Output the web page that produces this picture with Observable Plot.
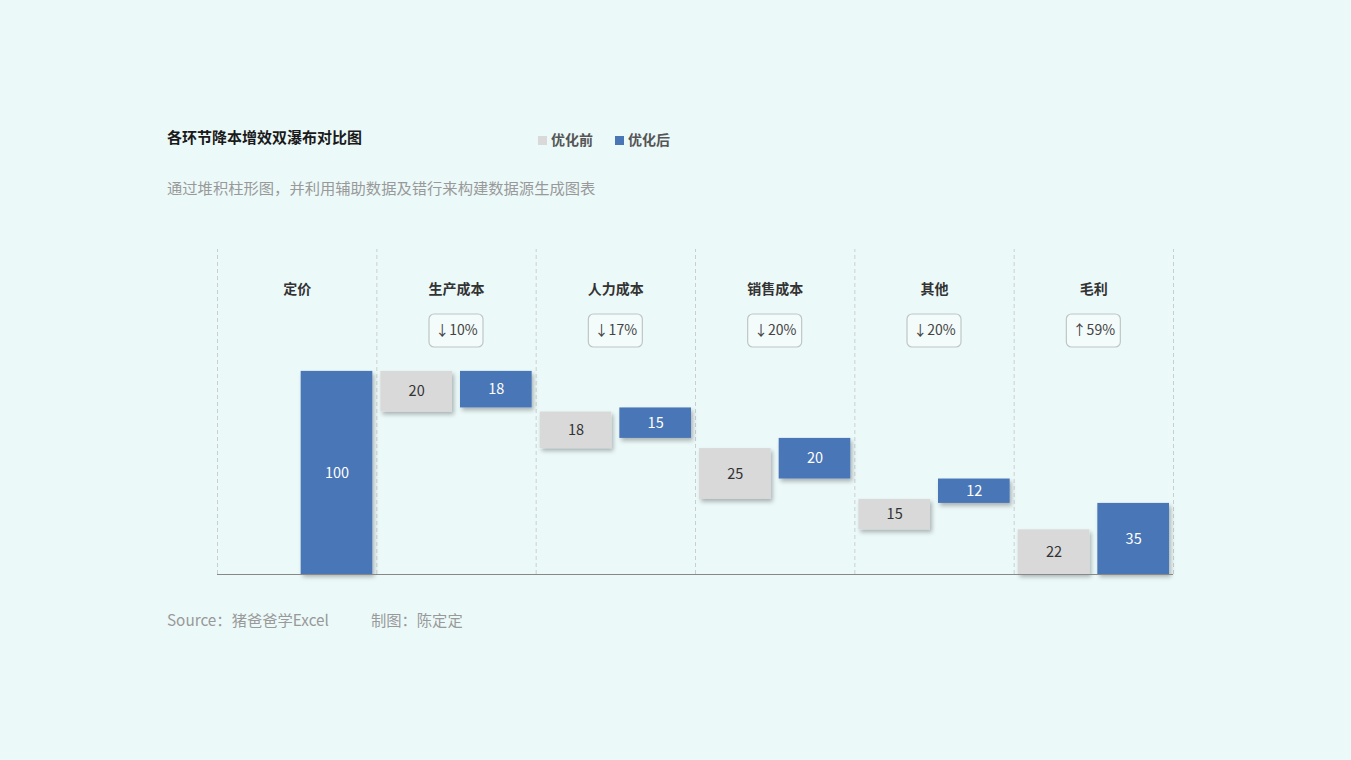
<!DOCTYPE html>
<html>
<head>
<meta charset="utf-8">
<script src="https://cdn.jsdelivr.net/npm/d3@7"></script>
<script src="https://cdn.jsdelivr.net/npm/@observablehq/plot@0.6"></script>
<style>
  html, body { margin: 0; padding: 0; background: #ecf9f9; }
  #wrap { position: relative; width: 1351px; height: 760px; background: #ecf9f9;
    font-family: "Noto Sans CJK SC", "Noto Sans", sans-serif; overflow: hidden; }
  .abs { position: absolute; white-space: nowrap; }
  #title { left: 167px; top: 126px; font-size: 15px; font-weight: bold; color: #1a1a1a; }
  #legend { left: 538px; top: 129px; font-size: 14px; font-weight: bold; color: #555; }
  #legend span.sw { display: inline-block; width: 9px; height: 9px; margin-right: 4px; vertical-align: 0px; }
  #legend span.item { margin-right: 22px; }
  #subtitle { left: 167px; top: 176px; font-size: 15.3px; color: #999; }
  #footer { left: 167px; top: 608px; font-size: 15.3px; color: #999; }
  #chart { position: absolute; left: 0; top: 230px; }
</style>
</head>
<body>
<div id="wrap">
  <div id="title" class="abs">各环节降本增效双瀑布对比图</div>
  <div id="legend" class="abs"></div>
  <div id="subtitle" class="abs">通过堆积柱形图，并利用辅助数据及错行来构建数据源生成图表</div>
  <div id="footer" class="abs">Source：猪爸爸学Excel<span style="display:inline-block;width:42px"></span>制图：陈定定</div>
  <div id="chart"></div>
</div>
<script>
// ---- data ----
const categories = ["定价", "生产成本", "人力成本", "销售成本", "其他", "毛利"];
const price = 100;                                  // 定价 (shared starting level)
const beforeValues = [null, 20, 18, 25, 15, 22];   // 优化前
const afterValues  = [100, 18, 15, 20, 12, 35];    // 优化后
const changeLabels = [null, "↓10%", "↓17%", "↓20%", "↓20%", "↑59%"];
const seriesNames = ["优化前", "优化后"];
const seriesColors = ["#d9d9d9", "#4a76b6"];
const yMax = 160;

// legend
const legend = document.getElementById("legend");
seriesNames.forEach((n, k) => {
  const s = document.createElement("span");
  s.className = "item";
  s.innerHTML = `<span class="sw" style="background:${seriesColors[k]}"></span>${n}`;
  legend.appendChild(s);
});

// ---- build waterfall rows ----
function waterfall(values, seriesIndex) {
  const rows = [];
  let level = price;
  values.forEach((v, i) => {
    if (v == null) return;
    let lo, hi;
    if (i === 0) { lo = 0; hi = v; level = v; }
    else if (i === values.length - 1) { lo = 0; hi = v; }
    else { hi = level; lo = level - v; level = lo; }
    rows.push({i, series: seriesNames[seriesIndex], s: seriesIndex, value: v, lo, hi});
  });
  return rows;
}
const bars = [...waterfall(beforeValues, 0), ...waterfall(afterValues, 1)];
const cats = categories.map((c, i) => ({i, name: c, change: changeLabels[i]}));
const badges = cats.filter(d => d.change);
const dividers = d3.range(categories.length + 1);

const W = 1351, H = 360;
const plot = Plot.plot({
  width: W,
  height: H,
  marginLeft: 217,
  marginRight: 178,
  marginTop: 19,
  marginBottom: 16,
  style: {background: "transparent", fontFamily: "'Noto Sans CJK SC', 'Noto Sans', sans-serif"},
  x: {type: "linear", domain: [0, categories.length], axis: null},
  y: {domain: [0, yMax], axis: null},
  color: {domain: seriesNames, range: seriesColors},
  marks: [
    Plot.ruleX(dividers, {x: d => d, y1: 0, y2: yMax, stroke: "#c9cfcf", strokeDasharray: "4,3", strokeWidth: 1}),
    Plot.rectY(bars, {
      x1: d => d.i + d.s * 0.5,
      x2: d => d.i + d.s * 0.5 + 0.5,
      y1: "lo", y2: "hi",
      fill: "series",
      insetLeft: 4, insetRight: 4
    }),
    Plot.text(bars, {
      x: d => d.i + d.s * 0.5 + 0.25,
      y: d => (d.lo + d.hi) / 2,
      text: d => String(d.value),
      fill: d => d.s === 1 ? "#ffffff" : "#333333",
      fontSize: 14.5
    }),
    Plot.ruleY([0], {stroke: "#888", strokeWidth: 1.2}),
    Plot.text(cats, {
      x: d => d.i + 0.5, frameAnchor: "top", dy: 35,
      text: "name", fill: "#333", fontSize: 14, fontWeight: "bold"
    }),
    Plot.rect(badges, {
      x1: d => d.i + 0.5, x2: d => d.i + 0.5,
      insetLeft: -27, insetRight: -27,
      insetTop: 65, insetBottom: 227,
      rx: 5, fill: "#f3fbfb", stroke: "#bfc6c6", strokeWidth: 1.2
    }),
    Plot.text(badges, {
      x: d => d.i + 0.5, frameAnchor: "top", dy: 76,
      text: "change", fill: "#444", fontSize: 14
    })
  ]
});
document.getElementById("chart").appendChild(plot);

// drop shadows on bars
const svg = d3.select(plot);
const defs = svg.insert("defs", ":first-child");
const f = defs.append("filter").attr("id", "shadow").attr("x", "-10%").attr("y", "-10%").attr("width", "130%").attr("height", "140%");
f.append("feDropShadow").attr("dx", 2).attr("dy", 3).attr("stdDeviation", 2).attr("flood-color", "#000").attr("flood-opacity", 0.28);
svg.selectAll('g[aria-label="rect"]').filter((d, k) => k === 0).attr("filter", "url(#shadow)");
</script>
</body>
</html>
